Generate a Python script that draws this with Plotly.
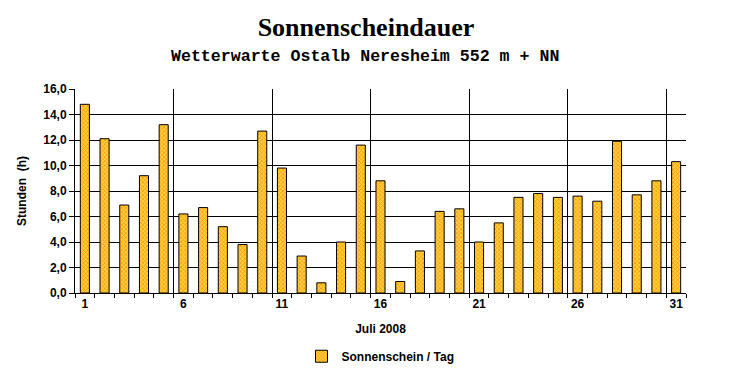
import plotly.graph_objects as go

days = list(range(1, 32))
hours = [14.8, 12.1, 6.9, 9.2, 13.2, 6.2, 6.7, 5.2, 3.8, 12.7,
         9.8, 2.9, 0.8, 4.0, 11.6, 8.8, 0.9, 3.3, 6.4, 6.6,
         4.0, 5.5, 7.5, 7.8, 7.5, 7.6, 7.2, 11.9, 7.7, 8.8, 10.3]
label_days = [1, 6, 11, 16, 21, 26, 31]
week_bounds = [5.5, 10.5, 15.5, 20.5, 25.5, 30.5]
y_ticks = [0, 2, 4, 6, 8, 10, 12, 14, 16]

fig = go.Figure()
fig.add_trace(go.Bar(
    x=days, y=hours, width=0.46, name="Sonnenschein / Tag",
    marker=dict(color="#FFCC33", line=dict(color="black", width=1),
                pattern=dict(shape="x", size=3, solidity=0.45,
                             fgcolor="#FF9900", bgcolor="#FFD040", fillmode="replace")),
))
fig.add_trace(go.Scatter(x=[1, 31], y=[0, 0], xaxis="x2", mode="markers",
                         marker=dict(opacity=0), showlegend=False, hoverinfo="skip"))

bold = dict(family="Liberation Sans", size=12, color="black", weight="bold")
fig.update_layout(
    width=732, height=380,
    margin=dict(l=75, r=46, t=89, b=87, autoexpand=False),
    paper_bgcolor="white", plot_bgcolor="white",
    separators=",.",
    showlegend=True,
    font=dict(family="Liberation Sans", color="black"),
    title=dict(text="<b>Sonnenscheindauer</b>", xref="container", x=0.5, xanchor="center",
               yref="container", y=0.93, yanchor="middle",
               font=dict(family="Liberation Serif", size=26, color="black")),
    xaxis=dict(range=[0.5, 31.5], tickvals=label_days, ticktext=[str(d) for d in label_days],
               showgrid=False, zeroline=False, ticks="", showline=True, linecolor="black",
               linewidth=1, tickfont=bold, automargin=False,
               minor=dict(tick0=0.5, dtick=1, ticks="outside", ticklen=4, tickcolor="black",
                          showgrid=False),
               title=dict(text="Juli 2008", font=bold, standoff=14)),
    xaxis2=dict(range=[0.5, 31.5], overlaying="x", tickvals=week_bounds, showgrid=True,
                gridcolor="black", gridwidth=1, showticklabels=False, ticks="",
                zeroline=False, showline=False),
    yaxis=dict(range=[0, 16], tickvals=y_ticks, tickformat=".1f", showgrid=True,
               gridcolor="black", gridwidth=1, zeroline=False, showline=True,
               linecolor="black", linewidth=1, ticks="outside", ticklen=5,
               tickcolor="black", tickfont=bold, automargin=False,
               title=dict(text="Stunden&nbsp;&nbsp;(h)", font=bold, standoff=14)),
    legend=dict(orientation="h", x=0.5, xanchor="center", y=-0.31, yanchor="middle",
                font=bold, bgcolor="rgba(0,0,0,0)"),
    annotations=[dict(text="Wetterwarte Ostalb Neresheim 552 m + NN",
                      xref="paper", yref="paper", x=0.4746, y=1.16, xanchor="center",
                      yanchor="middle", showarrow=False,
                      font=dict(family="Liberation Mono", size=16.6, color="black",
                                weight=600))],
)
fig.write_html("out.html")
